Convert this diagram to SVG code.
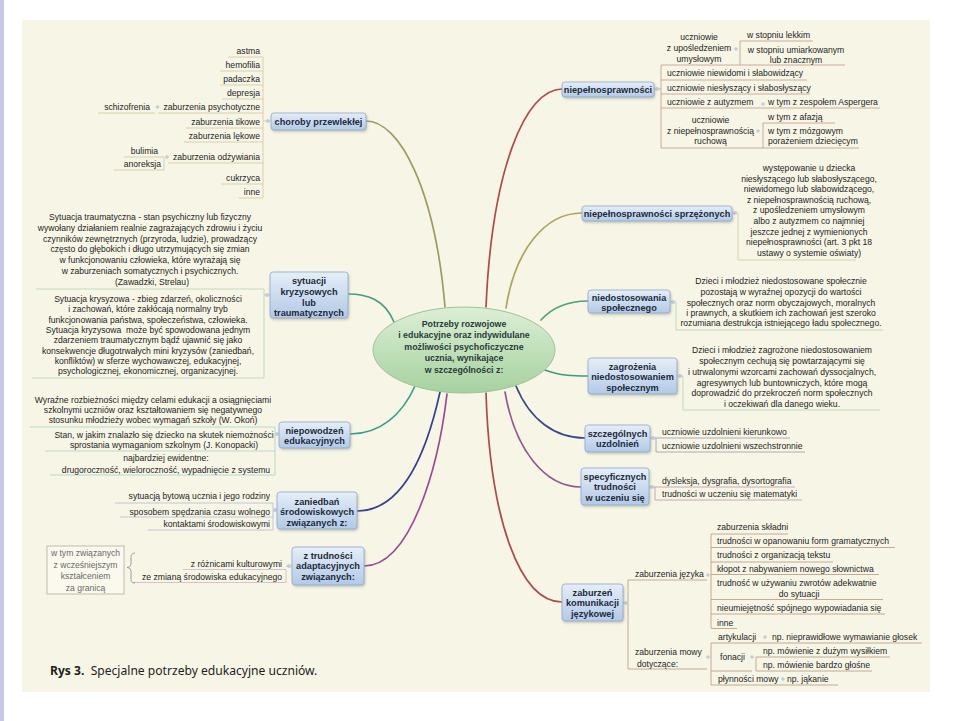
<svg xmlns="http://www.w3.org/2000/svg" width="953" height="721" viewBox="0 0 953 721">
<defs>
<linearGradient id="gb" x1="0" y1="0" x2="0" y2="1"><stop offset="0" stop-color="#e6eef8"/><stop offset="1" stop-color="#b2c9e6"/></linearGradient>
<linearGradient id="ge" x1="0" y1="0" x2="0" y2="1"><stop offset="0" stop-color="#dcefd6"/><stop offset="1" stop-color="#a6d19f"/></linearGradient>
<filter id="sh" x="-10%" y="-10%" width="130%" height="150%"><feDropShadow dx="1" dy="1.5" stdDeviation="0.8" flood-color="#8a8a7a" flood-opacity="0.45"/></filter>
</defs>
<style>
.t{font-family:"Liberation Sans",Arial,sans-serif;font-size:8.6px;fill:#1e1e1e}
.m{text-anchor:middle}
.e{text-anchor:end}
.g{fill:#6a6a6a}
.nt{font-family:"Liberation Sans",Arial,sans-serif;font-size:9.2px;font-weight:bold;fill:#1d2b3d;text-anchor:middle}
.box{fill:url(#gb);stroke:#8eaacb;stroke-width:0.8;filter:url(#sh)}
.c{fill:none;stroke-width:1.7;stroke-linecap:round}
.l{fill:none;stroke-width:0.8}
.d{fill:#c6ccd6}
</style>
<rect width="953" height="721" fill="#ffffff"/>
<rect x="0" y="0" width="4" height="721" fill="#c8c8e6"/>
<rect x="22" y="20" width="908" height="672" fill="#f7f5e6"/>

<g id="connectors" class="c">
<path d="M445,307 C435,190 400,121 366,121" stroke="#9e9b60"/>
<path d="M486,307 C492,170 525,89 562,89" stroke="#b04a4a"/>
<path d="M506,308 C515,250 545,213 582,213" stroke="#aca45c"/>
<path d="M541,320 C550,310 565,301 588,301" stroke="#4ea274"/>
<path d="M545,370 C560,376 575,376 588,376" stroke="#3f9a7c"/>
<path d="M516,386 C530,420 555,438 585,438" stroke="#3b4888"/>
<path d="M505,392 C515,450 545,487 581,487" stroke="#8c5a8e"/>
<path d="M486,393 C490,520 520,602 562,602" stroke="#a84c4c"/>
<path d="M394,322 C385,300 368,294 348,294" stroke="#4a9c84"/>
<path d="M415,386 C402,415 380,434 350,434" stroke="#38a08a"/>
<path d="M440,392 C425,460 400,511 357,511" stroke="#3a3f8e"/>
<path d="M447,394 C438,470 410,566 364,566" stroke="#9a4a92"/>
</g>

<g id="center">
<ellipse cx="464" cy="350" rx="91" ry="43" fill="url(#ge)" stroke="#9cc497" stroke-width="1"/>
<text class="nt" style="font-size:8.8px;fill:#2b3b3b" x="464" y="327">Potrzeby rozwojowe<tspan x="464" y="338.4">i edukacyjne oraz indywidulane</tspan><tspan x="464" y="349.8">możliwości psychoficzyczne</tspan><tspan x="464" y="361.2">ucznia, wynikające</tspan><tspan x="464" y="372.6">w szczególności z:</tspan></text>
</g>

<g id="n-choroby">
<path class="l" stroke="#d3c69e" d="M263,57V198 M228,57H263 M220,71H263 M220,85H263 M222,99H263 M158,113H263 M98,113H155 M186,128H263 M184,142H263 M168,163H263 M164,157V170 M124,157H164 M114,170H164 M221,184H263 M239,198H263 M263,121H271"/>
<circle class="d" cx="268" cy="121" r="2"/>
<circle class="d" cx="157.5" cy="107" r="1.8"/>
<circle class="d" cx="167" cy="157" r="1.8"/>
<rect class="box" x="271" y="113" width="95" height="17" rx="3"/>
<text class="nt" x="318.5" y="124.5">choroby przewlekłej</text>
<text class="t e" x="260" y="54">astma</text>
<text class="t e" x="260" y="68">hemofilia</text>
<text class="t e" x="260" y="81.5">padaczka</text>
<text class="t e" x="260" y="96">depresja</text>
<text class="t e" x="260" y="110">zaburzenia psychotyczne</text>
<text class="t e" x="150" y="110">schizofrenia</text>
<text class="t e" x="260" y="125">zaburzenia tikowe</text>
<text class="t e" x="260" y="138.5">zaburzenia lękowe</text>
<text class="t e" x="260" y="160">zaburzenia odżywiania</text>
<text class="t e" x="158" y="154">bulimia</text>
<text class="t e" x="161" y="167">anoreksja</text>
<text class="t e" x="260" y="181">cukrzyca</text>
<text class="t e" x="260" y="195">inne</text>
</g>

<g id="n-sytuacji">
<path class="l" stroke="#b6d4b0" d="M36,289H264 M264,289V378 M32,378H264 M264,295H270"/>
<circle class="d" cx="267" cy="295" r="2"/>
<rect class="box" x="270" y="272" width="78" height="46" rx="3"/>
<text class="nt" x="309" y="284.3">sytuacji<tspan x="309" y="295">kryzysowych</tspan><tspan x="309" y="305.7">lub</tspan><tspan x="309" y="316.4">traumatycznych</tspan></text>
<text class="t m" x="150" y="220">Sytuacja traumatyczna - stan psychiczny lub fizyczny<tspan x="150" y="230.8">wywołany działaniem realnie zagrażających zdrowiu i życiu</tspan><tspan x="150" y="241.6">czynników zewnętrznych (przyroda, ludzie), prowadzący</tspan><tspan x="150" y="252.4">często do głębokich i długo utrzymujących się zmian</tspan><tspan x="150" y="263.2">w funkcjonowaniu człowieka, które wyrażają się</tspan><tspan x="150" y="274">w zaburzeniach somatycznych i psychicznych.</tspan><tspan x="152" y="284.8">(Zawadzki, Strelau)</tspan></text>
<text class="t m" x="148" y="302">Sytuacja krysyzowa - zbieg zdarzeń, okoliczności<tspan x="148" y="312.3">i zachowań, które zakłócają normalny tryb</tspan><tspan x="148" y="322.6">funkcjonowania państwa, społeczeństwa, człowieka.</tspan><tspan x="148" y="332.9">Sytuacja kryzysowa &#160;może być spowodowana jednym</tspan><tspan x="148" y="343.2">zdarzeniem traumatycznym bądź ujawnić się jako</tspan><tspan x="148" y="353.5">konsekwencje długotrwałych mini kryzysów (zaniedbań,</tspan><tspan x="148" y="363.8">konfliktów) w sferze wychowawczej, edukacyjnej,</tspan><tspan x="148" y="374.1">psychologicznej, ekonomicznej, organizacyjnej.</tspan></text>
</g>

<g id="n-niepowodzen">
<path class="l" stroke="#a6d2c4" d="M30,427H275 M275,427V475 M45,451H275 M50,475H275 M275,434H279"/>
<circle class="d" cx="277" cy="434" r="2"/>
<rect class="box" x="279" y="422" width="71" height="26" rx="3"/>
<text class="nt" x="314.5" y="433.5">niepowodzeń<tspan x="314.5" y="444">edukacyjnych</tspan></text>
<text class="t m" x="153" y="403">Wyraźne rozbieżności między celami edukacji a osiągnięciami<tspan x="153" y="413">szkolnymi uczniów oraz kształtowaniem się negatywnego</tspan><tspan x="153" y="423">stosunku młodzieży wobec wymagań szkoły (W. Okoń)</tspan></text>
<text class="t m" x="164" y="437.5">Stan, w jakim znalazło się dziecko na skutek niemożności<tspan x="164" y="448">sprostania wymaganiom szkolnym (J. Konopacki)</tspan></text>
<text class="t m" x="166" y="461">najbardziej ewidentne:<tspan x="166" y="473">drugoroczność, wieloroczność, wypadnięcie z systemu</tspan></text>
</g>

<g id="n-zaniedban">
<path class="l" stroke="#b2bad6" d="M115,503H273 M273,503V530 M120,517H273 M148,530H273 M273,510H277"/>
<circle class="d" cx="275" cy="510" r="2"/>
<rect class="box" x="277" y="492" width="80" height="37" rx="3"/>
<text class="nt" x="317" y="505">zaniedbań<tspan x="317" y="515.3">środowiskowych</tspan><tspan x="317" y="525.6">związanych z:</tspan></text>
<text class="t e" x="270" y="499">sytuacją bytową ucznia i jego rodziny</text>
<text class="t e" x="270" y="514.5">sposobem spędzania czasu wolnego</text>
<text class="t e" x="270" y="526.5">kontaktami środowiskowymi</text>
</g>

<g id="n-trudnosci">
<path class="l" stroke="#cfb2cf" d="M183,569.5H286 M286,569.5V582.5 M133,582.5H286 M286,566H292"/>
<circle class="d" cx="289" cy="566" r="2"/>
<rect class="box" x="292" y="547" width="72" height="38" rx="3"/>
<text class="nt" x="328" y="558.5">z trudności<tspan x="328" y="569">adaptacyjnych</tspan><tspan x="328" y="579.5">związanych:</tspan></text>
<text class="t e" x="282" y="567">z różnicami kulturowymi</text>
<text class="t e" x="282" y="580">ze zmianą środowiska edukacyjnego</text>
<path d="M135,553 C131,553 131,556 131,559 L131,563 C131,566 130,567 127,567.5 C130,568 131,569 131,572 L131,578 C131,581 131,583 135,583" fill="none" stroke="#8a8a8a" stroke-width="0.8"/>
</g>

<g id="n-granica">
<rect x="47" y="546" width="77" height="48" fill="#fbf9ee" stroke="#b5ad98" stroke-width="0.8"/>
<text class="t m g" x="85.5" y="556">w tym związanych<tspan x="85.5" y="567.5">z wcześniejszym</tspan><tspan x="85.5" y="579">kształceniem</tspan><tspan x="85.5" y="590.5">za granicą</tspan></text>
</g>

<g id="n-niepelnosprawnosci">
<path class="l" stroke="#c29a88" d="M654,89H661 M661,65V148 M661,65H845 M740,41V65 M740,41H813 M661,80H807 M661,94H810 M661,108H880 M661,148H859 M763,123V148 M763,123H835"/>
<circle class="d" cx="657" cy="89" r="2"/>
<circle class="d" cx="736" cy="49" r="1.8"/>
<circle class="d" cx="763" cy="104" r="1.8"/>
<circle class="d" cx="758" cy="131" r="1.8"/>
<rect class="box" x="562" y="82" width="92" height="15" rx="3"/>
<text class="nt" x="608" y="92.5">niepełnosprawności</text>
<text class="t m" x="699" y="40">uczniowie<tspan x="699" y="51">z upośledzeniem</tspan><tspan x="699" y="62">umysłowym</tspan></text>
<text class="t" x="747" y="38">w stopniu lekkim</text>
<text class="t m" x="796" y="52.5">w stopniu umiarkowanym<tspan x="796" y="62.5">lub znacznym</tspan></text>
<text class="t" x="667" y="76">uczniowie niewidomi i słabowidzący</text>
<text class="t" x="667" y="91">uczniowie niesłyszący i słabosłyszący</text>
<text class="t" x="667" y="105">uczniowie z autyzmem</text>
<text class="t" x="768" y="105">w tym z zespołem Aspergera</text>
<text class="t m" x="710.5" y="123">uczniowie<tspan x="710.5" y="134">z niepełnosprawnością</tspan><tspan x="710.5" y="144">ruchową</tspan></text>
<text class="t" x="768" y="120">w tym z afazją</text>
<text class="t" x="768" y="134">w tym z mózgowym<tspan x="768" y="144">porażeniem dziecięcym</tspan></text>
</g>

<g id="n-sprzezonych">
<path class="l" stroke="#d2c9a2" d="M732,213H738 M738,213V260 M738,260H856"/>
<circle class="d" cx="735" cy="213" r="2"/>
<rect class="box" x="582" y="206" width="150" height="15" rx="3"/>
<text class="nt" x="657" y="216.5">niepełnosprawności sprzężonych</text>
<text class="t m" x="809" y="171">występowanie u dziecka<tspan x="809" y="181.6">niesłyszącego lub słabosłyszącego,</tspan><tspan x="809" y="192.2">niewidomego lub słabowidzącego,</tspan><tspan x="809" y="202.8">z niepełnosprawnością ruchową,</tspan><tspan x="809" y="213.4">z upośledzeniem umysłowym</tspan><tspan x="809" y="224">albo z autyzmem co najmniej</tspan><tspan x="809" y="234.6">jeszcze jednej z wymienionych</tspan><tspan x="809" y="245.2">niepełnosprawności (art. 3 pkt 18</tspan><tspan x="809" y="255.8">ustawy o systemie oświaty)</tspan></text>
</g>

<g id="n-niedostosowania">
<path class="l" stroke="#b2d4ae" d="M670,302H676 M676,302V330 M676,330H883"/>
<circle class="d" cx="673" cy="302" r="2"/>
<rect class="box" x="588" y="290" width="82" height="23" rx="3"/>
<text class="nt" x="629" y="300.5">niedostosowania<tspan x="629" y="310.5">społecznego</tspan></text>
<text class="t m" x="781" y="284">Dzieci i młodzież niedostosowane społecznie<tspan x="781" y="295">pozostają w wyraźnej opozycji do wartości</tspan><tspan x="781" y="305.5">społecznych oraz norm obyczajowych, moralnych</tspan><tspan x="781" y="316">i prawnych, a skutkiem ich zachowań jest szeroko</tspan><tspan x="781" y="326">rozumiana destrukcja istniejącego ładu społecznego.</tspan></text>
</g>

<g id="n-zagrozenia">
<path class="l" stroke="#b2d4ae" d="M677,376H683 M683,376V410 M683,410H880"/>
<circle class="d" cx="680" cy="376" r="2"/>
<rect class="box" x="588" y="358" width="89" height="36" rx="3"/>
<text class="nt" x="632.5" y="369.5">zagrożenia<tspan x="632.5" y="380">niedostosowaniem</tspan><tspan x="632.5" y="390.5">społecznym</tspan></text>
<text class="t m" x="782" y="353">Dzieci i młodzież zagrożone niedostosowaniem<tspan x="782" y="364">społecznym cechują się powtarzającymi się</tspan><tspan x="782" y="375">i utrwalonymi wzorcami zachowań dyssocjalnych,</tspan><tspan x="782" y="385.5">agresywnych lub buntowniczych, które mogą</tspan><tspan x="782" y="396">doprowadzić do przekroczeń norm społecznych</tspan><tspan x="782" y="407">i oczekiwań dla danego wieku.</tspan></text>
</g>

<g id="n-uzdolnien">
<path class="l" stroke="#9c94aa" d="M650,438H656 M656,438V452 M656,438H790 M656,452H805"/>
<circle class="d" cx="653" cy="438" r="2"/>
<rect class="box" x="585" y="425" width="65" height="27" rx="3"/>
<text class="nt" x="617.5" y="436.5">szczególnych<tspan x="617.5" y="447">uzdolnień</tspan></text>
<text class="t" x="662" y="434.7">uczniowie uzdolnieni kierunkowo</text>
<text class="t" x="662" y="449">uczniowie uzdolnieni wszechstronnie</text>
</g>

<g id="n-specyficznych">
<path class="l" stroke="#b898ac" d="M649,487H655 M655,487V500 M655,487H795 M655,500H802"/>
<circle class="d" cx="652" cy="487" r="2"/>
<rect class="box" x="581" y="468" width="68" height="37" rx="3"/>
<text class="nt" x="615" y="479.5">specyficznych<tspan x="615" y="490">trudności</tspan><tspan x="615" y="500.5">w uczeniu się</tspan></text>
<text class="t" x="662" y="483.5">dysleksja, dysgrafia, dysortografia</text>
<text class="t" x="662" y="497">trudności w uczeniu się matematyki</text>
</g>

<g id="n-komunikacji">
<path class="l" stroke="#b9977e" d="M623,603H628 M628,580V669 M628,580H707 M628,669H707 M711,534V628 M711,534H788 M711,547.5H895 M711,562H833 M711,574.5H879 M711,599.5H883 M711,614H885 M711,628.5H737 M711,643V685 M711,643H922 M711,671H752 M756,657V671 M756,657H890 M756,671H872 M711,685H838"/>
<circle class="d" cx="626" cy="603" r="2"/>
<circle class="d" cx="708" cy="575" r="1.8"/>
<circle class="d" cx="708" cy="657" r="1.8"/>
<circle class="d" cx="765" cy="637" r="1.8"/>
<circle class="d" cx="752" cy="657" r="1.8"/>
<circle class="d" cx="783" cy="679" r="1.8"/>
<rect class="box" x="562" y="584" width="61" height="37" rx="3"/>
<text class="nt" x="592.5" y="595.5">zaburzeń<tspan x="592.5" y="606">komunikacji</tspan><tspan x="592.5" y="616.5">językowej</tspan></text>
<text class="t" x="635" y="577">zaburzenia języka</text>
<text class="t" x="717" y="530">zaburzenia składni</text>
<text class="t" x="717" y="544">trudności w opanowaniu form gramatycznych</text>
<text class="t" x="717" y="557.5">trudności z organizacją tekstu</text>
<text class="t" x="717" y="572">kłopot z nabywaniem nowego słownictwa</text>
<text class="t" x="717" y="585.5">trudność w używaniu zwrotów adekwatnie</text>
<text class="t m" x="799" y="596.5">do sytuacji</text>
<text class="t" x="717" y="611">nieumiejętność spójnego wypowiadania się</text>
<text class="t" x="717" y="626">inne</text>
<text class="t" x="635" y="655">zaburzenia mowy</text>
<text class="t" x="637" y="667">dotyczące:</text>
<text class="t" x="718" y="640">artykulacji</text>
<text class="t" x="772" y="640">np. nieprawidłowe wymawianie głosek</text>
<text class="t" x="720" y="660">fonacji</text>
<text class="t" x="763" y="654">np. mówienie z dużym wysiłkiem</text>
<text class="t" x="763" y="668">np. mówienie bardzo głośne</text>
<text class="t" x="718" y="682">płynności mowy</text>
<text class="t" x="787" y="682">np. jąkanie</text>
</g>

<g id="caption">
<text x="50" y="675" style="font-family:'Noto Sans','Liberation Sans',sans-serif;font-size:12.1px;fill:#1e1e1e"><tspan font-weight="bold">Rys 3.</tspan>&#160; Specjalne potrzeby edukacyjne uczniów.</text>
</g>
</svg>
